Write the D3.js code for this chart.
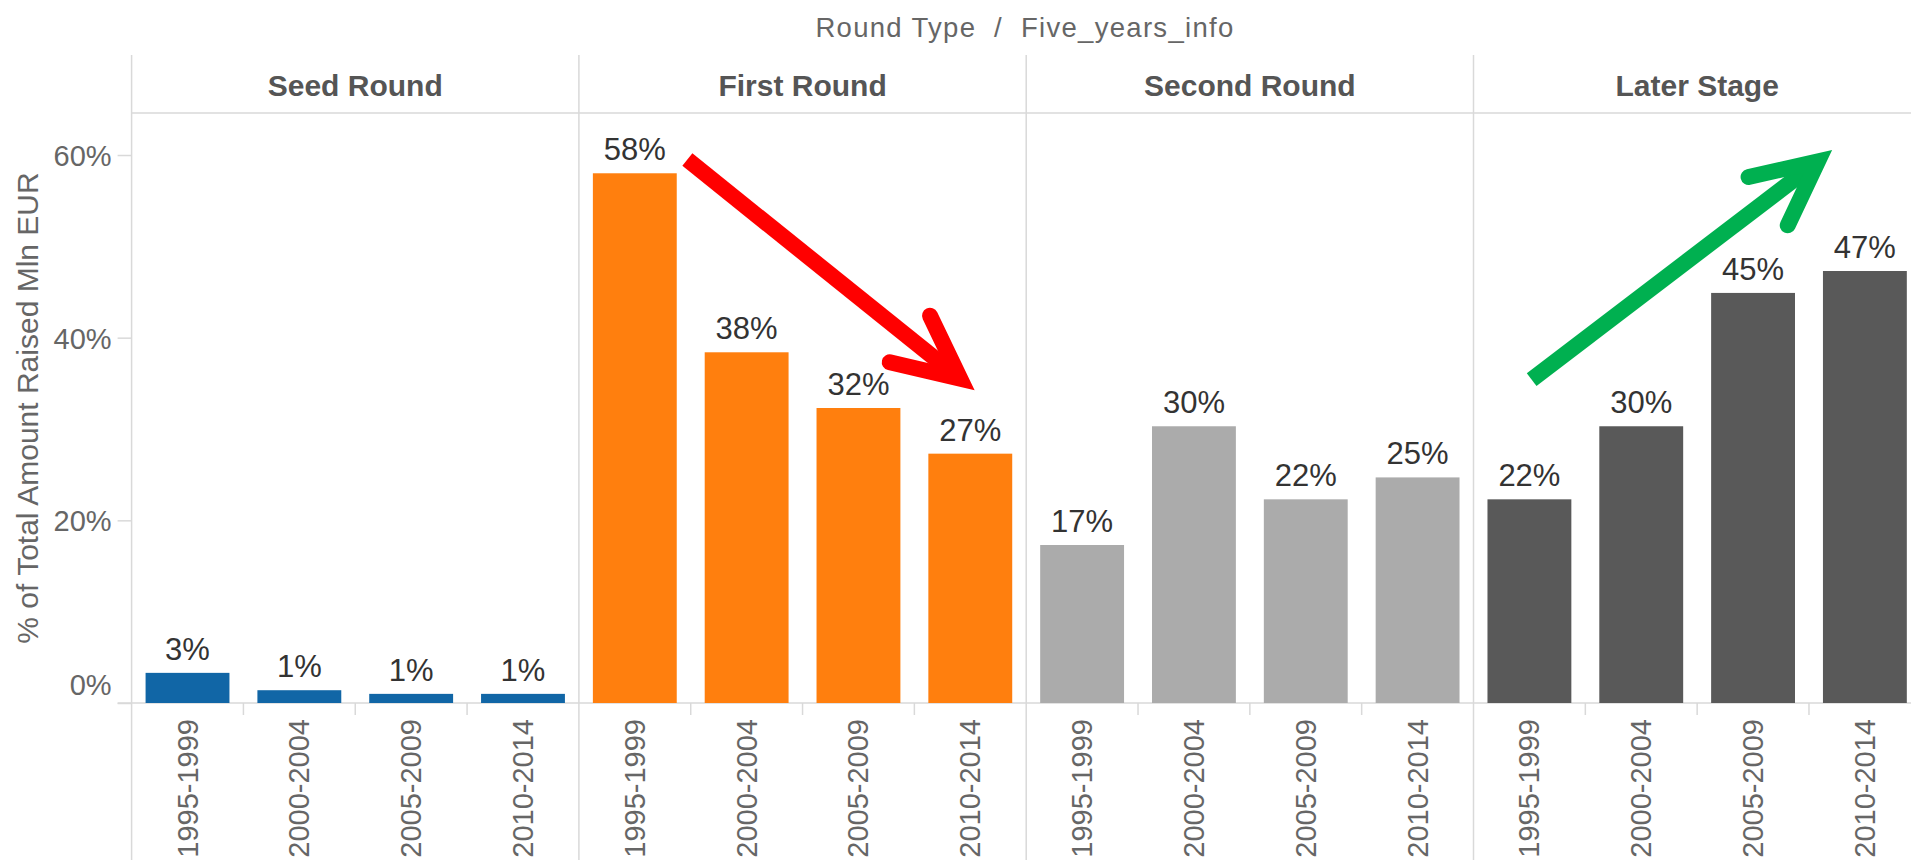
<!DOCTYPE html>
<html>
<head>
<meta charset="utf-8">
<script src="https://cdn.jsdelivr.net/npm/d3@7/dist/d3.min.js"></script>
<style>
  html, body { margin: 0; padding: 0; background: #fff; overflow: hidden; }
  svg { display: block; font-family: "Liberation Sans", Arial, sans-serif; }
</style>
</head>
<body>
<div id="chart"></div>
<script>
"use strict";

var panels = ["Seed Round", "First Round", "Second Round", "Later Stage"];
var periods = ["1995-1999", "2000-2004", "2005-2009", "2010-2014"];
var seedValues = [3.3, 1.4, 1.0, 1.0];
var firstValues = [58.0, 38.4, 32.3, 27.3];
var secondValues = [17.3, 30.3, 22.3, 24.7];
var laterValues = [22.3, 30.3, 44.9, 47.3];
var panelColors = ["#1166a6", "#ff7f0e", "#ababab", "#595959"];
var yTicks = [0, 20, 40, 60];

// trend arrows, in data terms: panel, position in category steps, value (%)
var redArrow = { panel: "First Round", color: "#ff0000",
  from: [0.97, 59.5], to: [3.41, 35.5], wingA: [3.14, 42.4], wingB: [2.78, 37.3] };
var greenArrow = { panel: "Later Stage", color: "#00b050",
  from: [0.52, 35.4], to: [3.08, 59.3], wingA: [2.46, 57.6], wingB: [2.81, 52.3] };

var width = 1911, height = 860;
var left = 131.6, panelW = 447.3;
var plotTop = 113, plotBottom = 703;

var svg = d3.select("#chart").append("svg")
  .attr("width", width)
  .attr("height", height);

var xOuter = d3.scaleBand().domain(panels).range([left, left + panelW * panels.length]);
var xInner = d3.scaleBand().domain(periods).range([0, panelW]).paddingInner(0.25).paddingOuter(0.125);
var y = d3.scaleLinear().domain([0, 64.6]).range([plotBottom, plotTop]);

var rows = [];
[seedValues, firstValues, secondValues, laterValues].forEach(function (vals, pi) {
  vals.forEach(function (v, i) {
    rows.push({ panel: panels[pi], period: periods[i], value: v, color: panelColors[pi] });
  });
});

var gridColor = "#d9d9d9";

// title
svg.append("text")
  .attr("x", 1025)
  .attr("y", 27)
  .attr("text-anchor", "middle")
  .attr("dominant-baseline", "central")
  .attr("font-size", "27.5px")
  .attr("letter-spacing", "1.3px")
  .style("white-space", "pre")
  .attr("fill", "#666")
  .text("Round Type  /  Five_years_info");

// header bottom line
svg.append("line")
  .attr("x1", left).attr("x2", width)
  .attr("y1", plotTop).attr("y2", plotTop)
  .attr("stroke", gridColor).attr("stroke-width", 1.5);

// panel dividers
svg.selectAll(".divider")
  .data(panels)
  .enter().append("line")
  .attr("class", "divider")
  .attr("x1", function (d) { return xOuter(d); })
  .attr("x2", function (d) { return xOuter(d); })
  .attr("y1", 55).attr("y2", height)
  .attr("stroke", gridColor).attr("stroke-width", 1.5);

// panel headers
svg.selectAll(".header")
  .data(panels)
  .enter().append("text")
  .attr("class", "header")
  .attr("x", function (d) { return xOuter(d) + panelW / 2; })
  .attr("y", 85)
  .attr("text-anchor", "middle")
  .attr("dominant-baseline", "central")
  .attr("font-size", "30px")
  .attr("font-weight", "bold")
  .attr("fill", "#555")
  .text(function (d) { return d; });

// y axis
var yAxis = svg.append("g")
  .attr("transform", "translate(" + left + ",0)")
  .call(d3.axisLeft(y).tickValues(yTicks).tickSize(14).tickPadding(6)
    .tickFormat(function (d) { return d + "%"; }));
yAxis.select(".domain").remove();
yAxis.selectAll(".tick line").attr("stroke", gridColor).attr("stroke-width", 1.5);
yAxis.selectAll(".tick text")
  .attr("font-size", "29px")
  .attr("font-family", "Liberation Sans, Arial, sans-serif")
  .attr("fill", "#666")
  .attr("dy", function (d) { return d === 0 ? "-0.3em" : "0.36em"; });

// y axis title
svg.append("text")
  .attr("transform", "translate(27," + ((plotTop + plotBottom) / 2) + ") rotate(-90)")
  .attr("text-anchor", "middle")
  .attr("dominant-baseline", "central")
  .attr("font-size", "30px")
  .attr("fill", "#666")
  .text("% of Total Amount Raised Mln EUR");

// baseline
svg.append("line")
  .attr("x1", left - 14).attr("x2", width)
  .attr("y1", y(0)).attr("y2", y(0))
  .attr("stroke", gridColor).attr("stroke-width", 1.5);

// small separators below baseline between categories
var seps = [];
panels.forEach(function (p) {
  periods.forEach(function (c, i) {
    if (i > 0) { seps.push(xOuter(p) + xInner.step() * i); }
  });
});
svg.selectAll(".sep")
  .data(seps)
  .enter().append("line")
  .attr("class", "sep")
  .attr("x1", function (d) { return d; }).attr("x2", function (d) { return d; })
  .attr("y1", y(0)).attr("y2", y(0) + 12)
  .attr("stroke", gridColor).attr("stroke-width", 1.5);

// bars
svg.selectAll(".bar")
  .data(rows)
  .enter().append("rect")
  .attr("class", "bar")
  .attr("x", function (d) { return xOuter(d.panel) + xInner(d.period); })
  .attr("y", function (d) { return y(d.value); })
  .attr("width", xInner.bandwidth())
  .attr("height", function (d) { return y(0) - y(d.value); })
  .attr("fill", function (d) { return d.color; });

// bar labels
svg.selectAll(".bar-label")
  .data(rows)
  .enter().append("text")
  .attr("class", "bar-label")
  .attr("x", function (d) { return xOuter(d.panel) + xInner(d.period) + xInner.bandwidth() / 2; })
  .attr("y", function (d) { return y(d.value) - 13; })
  .attr("text-anchor", "middle")
  .attr("font-size", "31px")
  .attr("fill", "#333")
  .text(function (d) { return Math.round(d.value) + "%"; });

// x labels (rotated)
svg.selectAll(".x-label")
  .data(rows)
  .enter().append("text")
  .attr("class", "x-label")
  .attr("transform", function (d) {
    var cx = xOuter(d.panel) + xInner(d.period) + xInner.bandwidth() / 2;
    return "translate(" + cx + "," + (y(0) + 16) + ") rotate(-90)";
  })
  .attr("text-anchor", "end")
  .attr("dominant-baseline", "central")
  .attr("font-size", "29px")
  .attr("fill", "#666")
  .text(function (d) { return d.period; });

// arrows
function arrowPoint(a, p) {
  return [xOuter(a.panel) + xInner.step() * p[0], y(p[1])];
}
[redArrow, greenArrow].forEach(function (a) {
  var s = arrowPoint(a, a.from), t = arrowPoint(a, a.to);
  var wa = arrowPoint(a, a.wingA), wb = arrowPoint(a, a.wingB);
  svg.append("line")
    .attr("x1", s[0]).attr("y1", s[1])
    .attr("x2", t[0] - (t[0] - s[0]) * 0.04).attr("y2", t[1] - (t[1] - s[1]) * 0.04)
    .attr("stroke", a.color).attr("stroke-width", 16);
  svg.append("path")
    .attr("d", d3.line()([wa, t, wb]))
    .attr("fill", "none")
    .attr("stroke", a.color)
    .attr("stroke-width", 16)
    .attr("stroke-linecap", "round")
    .attr("stroke-linejoin", "miter")
    .attr("stroke-miterlimit", 10);
});
</script>
</body>
</html>
